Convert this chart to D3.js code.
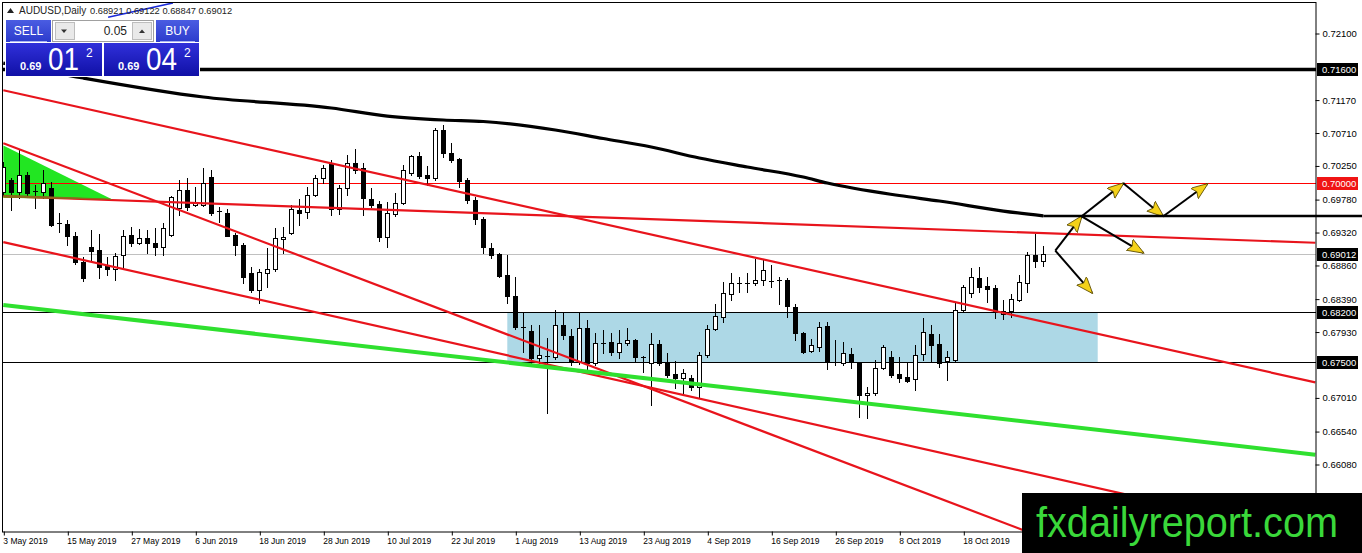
<!DOCTYPE html>
<html>
<head>
<meta charset="utf-8">
<script src="https://cdn.jsdelivr.net/npm/d3@7"></script>
<style>
  html, body { margin: 0; padding: 0; background: #fff; }
  svg { display: block; font-family: "Liberation Sans", Arial, sans-serif; }
</style>
</head>
<body>
<div id="chart"></div>
<script>
// AUDUSD daily candles, 3 May 2019 -> 1 Nov 2019 (one value per bar)
const opens = [
  0.6988, 0.7005, 0.6988, 0.7012, 0.6989, 0.6988, 0.6994, 0.6944, 0.6943, 0.6926,
  0.6890, 0.6911, 0.6907, 0.6885, 0.6880, 0.6900, 0.6928, 0.6917, 0.6924, 0.6917,
  0.6911, 0.6928, 0.6966, 0.6991, 0.6970, 0.6970, 0.7009, 0.6960, 0.6959, 0.6928,
  0.6914, 0.6875, 0.6851, 0.6875, 0.6880, 0.6922, 0.6931, 0.6963, 0.6960, 0.6984,
  0.7007, 0.7028, 0.6964, 0.6994, 0.7028, 0.7021, 0.6978, 0.6971, 0.6925, 0.6957,
  0.6973, 0.7014, 0.7038, 0.7012, 0.7007, 0.7075, 0.7042, 0.7034, 0.7005, 0.6977,
  0.6950, 0.6910, 0.6901, 0.6872, 0.6843, 0.6800, 0.6794, 0.6756, 0.6759, 0.6757,
  0.6802, 0.6787, 0.6750, 0.6798, 0.6749, 0.6777, 0.6778, 0.6764, 0.6777, 0.6781,
  0.6758, 0.6749, 0.6775, 0.6750, 0.6734, 0.6728, 0.6728, 0.6716, 0.6760, 0.6797,
  0.6813, 0.6845, 0.6861, 0.6860, 0.6861, 0.6865, 0.6864, 0.6864, 0.6865, 0.6827,
  0.6791, 0.6766, 0.6772, 0.6801, 0.6750, 0.6749, 0.6762, 0.6749, 0.6704, 0.6707,
  0.6742, 0.6757, 0.6734, 0.6729, 0.6727, 0.6762, 0.6790, 0.6776, 0.6752, 0.6753,
  0.6823, 0.6847, 0.6868, 0.6857, 0.6854, 0.6817, 0.6822, 0.6837, 0.6861, 0.6900,
  0.68921
];
const highs = [
  0.7030, 0.7007, 0.7047, 0.7016, 0.6998, 0.7019, 0.7002, 0.6959, 0.6949, 0.6932,
  0.6897, 0.6935, 0.6929, 0.6897, 0.6903, 0.6935, 0.6939, 0.6936, 0.6935, 0.6938,
  0.6945, 0.6982, 0.7005, 0.7007, 0.6995, 0.7021, 0.7019, 0.6967, 0.6964, 0.6930,
  0.6916, 0.6883, 0.6880, 0.6910, 0.6938, 0.6939, 0.6970, 0.6978, 0.6995, 0.7012,
  0.7026, 0.7033, 0.6998, 0.7040, 0.7048, 0.7028, 0.6994, 0.6975, 0.6974, 0.6987,
  0.7026, 0.7040, 0.7044, 0.7024, 0.7077, 0.7082, 0.7056, 0.7036, 0.7007, 0.6981,
  0.6953, 0.6917, 0.6903, 0.6900, 0.6869, 0.6819, 0.6802, 0.6802, 0.6784, 0.6823,
  0.6819, 0.6797, 0.6820, 0.6809, 0.6791, 0.6795, 0.6791, 0.6795, 0.6798, 0.6783,
  0.6759, 0.6791, 0.6781, 0.6763, 0.6752, 0.6741, 0.6732, 0.6764, 0.6802, 0.6831,
  0.6862, 0.6875, 0.6869, 0.6875, 0.6894, 0.6893, 0.6886, 0.6869, 0.6868, 0.6831,
  0.6793, 0.6783, 0.6806, 0.6806, 0.6781, 0.6778, 0.6770, 0.6751, 0.6716, 0.6753,
  0.6774, 0.6766, 0.6757, 0.6750, 0.6774, 0.6812, 0.6802, 0.6789, 0.6766, 0.6833,
  0.6858, 0.6882, 0.6883, 0.6869, 0.6858, 0.6837, 0.6845, 0.6872, 0.6904, 0.6929,
  0.69122
];
const lows = [
  0.6984, 0.6963, 0.6980, 0.6981, 0.6966, 0.6980, 0.6940, 0.6932, 0.6914, 0.6887,
  0.6864, 0.6893, 0.6868, 0.6872, 0.6865, 0.6883, 0.6912, 0.6915, 0.6903, 0.6900,
  0.6900, 0.6926, 0.6956, 0.6963, 0.6968, 0.6968, 0.6956, 0.6946, 0.6926, 0.6900,
  0.6861, 0.6848, 0.6833, 0.6855, 0.6878, 0.6903, 0.6929, 0.6942, 0.6952, 0.6982,
  0.7000, 0.6956, 0.6957, 0.6984, 0.7014, 0.6956, 0.6967, 0.6919, 0.6911, 0.6954,
  0.6971, 0.7012, 0.7008, 0.6998, 0.7005, 0.7037, 0.7030, 0.6995, 0.6972, 0.6943,
  0.6903, 0.6896, 0.6869, 0.6833, 0.6797, 0.6764, 0.6749, 0.6749, 0.6679, 0.6755,
  0.6783, 0.6746, 0.6748, 0.6739, 0.6746, 0.6763, 0.6760, 0.6756, 0.6774, 0.6750,
  0.6736, 0.6690, 0.6746, 0.6729, 0.6714, 0.6707, 0.6711, 0.6700, 0.6758, 0.6795,
  0.6806, 0.6837, 0.6848, 0.6848, 0.6858, 0.6858, 0.6855, 0.6831, 0.6813, 0.6781,
  0.6763, 0.6764, 0.6766, 0.6741, 0.6746, 0.6746, 0.6742, 0.6674, 0.6672, 0.6705,
  0.6740, 0.6729, 0.6722, 0.6722, 0.6711, 0.6753, 0.6750, 0.6743, 0.6725, 0.6751,
  0.6821, 0.6841, 0.6848, 0.6834, 0.6812, 0.6811, 0.6813, 0.6835, 0.6848, 0.6883,
  0.68847
];
const closes = [
  0.7023, 0.6988, 0.7012, 0.6987, 0.6988, 0.7000, 0.6942, 0.6943, 0.6926, 0.6890,
  0.6868, 0.6906, 0.6883, 0.6880, 0.6899, 0.6926, 0.6917, 0.6924, 0.6917, 0.6911,
  0.6938, 0.6981, 0.6991, 0.6967, 0.6974, 0.7000, 0.6959, 0.6961, 0.6926, 0.6914,
  0.6869, 0.6851, 0.6876, 0.6880, 0.6924, 0.6925, 0.6964, 0.6959, 0.6984, 0.7007,
  0.7021, 0.6964, 0.6994, 0.7028, 0.7019, 0.6980, 0.6970, 0.6925, 0.6959, 0.6973,
  0.7019, 0.7038, 0.7010, 0.7007, 0.7075, 0.7042, 0.7033, 0.7003, 0.6977, 0.6950,
  0.6911, 0.6900, 0.6871, 0.6843, 0.6799, 0.6799, 0.6756, 0.6760, 0.6758, 0.6802,
  0.6788, 0.6750, 0.6798, 0.6749, 0.6777, 0.6776, 0.6764, 0.6777, 0.6781, 0.6757,
  0.6757, 0.6775, 0.6749, 0.6732, 0.6728, 0.6735, 0.6716, 0.6760, 0.6797, 0.6815,
  0.6847, 0.6861, 0.6860, 0.6861, 0.6865, 0.6879, 0.6863, 0.6865, 0.6829, 0.6791,
  0.6764, 0.6774, 0.6799, 0.6750, 0.6749, 0.6763, 0.6750, 0.6704, 0.6707, 0.6742,
  0.6771, 0.6732, 0.6728, 0.6724, 0.6760, 0.6792, 0.6774, 0.6749, 0.6757, 0.6823,
  0.6855, 0.6869, 0.6855, 0.6852, 0.6822, 0.6822, 0.6838, 0.6862, 0.6900, 0.6892,
  0.69012
];

// moving average (bar index, value)
const maBars   = [0, 10, 25, 41, 48, 55, 60, 69, 75, 81, 87, 93, 100, 103, 112, 117, 125, 130];
const maValues = [0.71680, 0.71471, 0.71206, 0.71052, 0.70940, 0.70885, 0.70864, 0.70745, 0.70626,
                  0.70507, 0.70354, 0.70228, 0.70088, 0.70004, 0.69830, 0.69753, 0.69613, 0.69545];

// bottom axis
const dateBars   = [0, 8, 16, 24, 32, 40, 48, 56, 64, 72, 80, 88, 96, 104, 112, 120];
const dateLabels = ["3 May 2019", "15 May 2019", "27 May 2019", "6 Jun 2019", "18 Jun 2019", "28 Jun 2019",
                    "10 Jul 2019", "22 Jul 2019", "1 Aug 2019", "13 Aug 2019", "23 Aug 2019", "4 Sep 2019",
                    "16 Sep 2019", "26 Sep 2019", "8 Oct 2019", "18 Oct 2019"];

// right axis (the two ticks hidden under level labels are left out)
const priceTicks = [0.72100, 0.71170, 0.70710, 0.70250, 0.69780, 0.69320, 0.68860,
                    0.68390, 0.67930, 0.67010, 0.66540, 0.66080, 0.65620];

// horizontal levels: 0.716, 0.700, bid, 0.682, 0.675
const levelPrices = [0.71600, 0.70000, 0.69012, 0.68200, 0.67500];
const maFlatLevel = 0.69545;

// drawn objects, as [bar index, price] pairs
const redTrends = [
  [[0, 0.7130], [164, 0.6722]],
  [[0, 0.7056], [130, 0.6505]],
  [[0, 0.6918], [164, 0.6506]],
  [[0, 0.6982], [164, 0.6917]]
];
const greenTrend = [[0, 0.6830], [164, 0.6621]];
const blueTrend = [[13.1, 0.7232], [21.2, 0.7252]];
const greenTriangle = [[0, 0.7053], [13.7, 0.6977], [0, 0.6980]];
const rangeBars = [63.0, 136.8];
const rangePrices = [0.6820, 0.6750];
const arrowSegments = [
  [[131.5, 0.6906], [134.8, 0.6954]],
  [[134.8, 0.6954], [140.0, 0.7000]],
  [[140.0, 0.7000], [145.0, 0.6954]],
  [[145.0, 0.6954], [150.5, 0.6999]],
  [[134.8, 0.6954], [142.5, 0.6903]],
  [[131.5, 0.6906], [136.1, 0.6847]]
];

const W = 1362, H = 553;
const plot = { left: 3, top: 3, right: 1316, bottom: 532 };

const svg = d3.select("#chart").append("svg")
    .attr("width", W)
    .attr("height", H);

const x = d3.scaleLinear().domain([0, 164]).range([3.3, 3.3 + 8 * 164]);
const y = d3.scaleLinear().domain([0.72100, 0.66080]).range([33, 464]);
const px = d => Math.round(x(d)) + 0.5;
const py = d => Math.round(y(d)) + 0.5;
const line = d3.line().x(d => x(d[0])).y(d => y(d[1]));

const defs = svg.append("defs");
defs.append("clipPath").attr("id", "plot-clip")
    .append("rect")
    .attr("x", plot.left)
    .attr("y", plot.top)
    .attr("width", plot.right - plot.left)
    .attr("height", plot.bottom - plot.top);
defs.append("clipPath").attr("id", "tri-clip")
    .append("path")
    .attr("d", line(greenTriangle) + "Z");

defs.append("marker")
    .attr("id", "arrow-head")
    .attr("markerUnits", "userSpaceOnUse")
    .attr("markerWidth", 20)
    .attr("markerHeight", 14)
    .attr("refX", 16)
    .attr("refY", 6.5)
    .attr("orient", "auto")
    .append("path")
    .attr("d", "M0,0 L17,6.5 L0,13 L3,6.5 Z")
    .attr("fill", "#f4d21a")
    .attr("stroke", "#5a4a00")
    .attr("stroke-width", 0.8);

const grad = (id, top, bottom) => {
    const lg = defs.append("linearGradient").attr("id", id)
        .attr("x1", "0%").attr("y1", "0%").attr("x2", "0%").attr("y2", "100%");
    lg.append("stop").attr("offset", "0%").attr("stop-color", top);
    lg.append("stop").attr("offset", "100%").attr("stop-color", bottom);
};
grad("btn-grad", "#4a5ce2", "#2c3bcc");
grad("price-grad", "#3030da", "#1010a6");

const g = svg.append("g").attr("clip-path", "url(#plot-clip)");

// range box behind the candles
g.append("rect")
    .attr("x", x(rangeBars[0]))
    .attr("y", y(rangePrices[0]))
    .attr("width", x(rangeBars[1]) - x(rangeBars[0]))
    .attr("height", y(rangePrices[1]) - y(rangePrices[0]))
    .attr("fill", "#add8e6");

g.append("path")
    .attr("d", line(greenTriangle) + "Z")
    .attr("fill", "#22e622");

// horizontal levels
const levelColor = ["#000", "#ff0000", "#c0c0c0", "#000", "#000"];
const levelWidth = [3.5, 1, 1, 1, 1];
g.selectAll(".level")
    .data(levelPrices)
    .join("line")
    .attr("class", "level")
    .attr("x1", plot.left)
    .attr("x2", plot.right)
    .attr("y1", d => py(d))
    .attr("y2", d => py(d))
    .attr("stroke", (d, i) => levelColor[i])
    .attr("stroke-width", (d, i) => levelWidth[i]);

// candles
const bars = d3.range(opens.length).map(i => ({ i, o: opens[i], h: highs[i], l: lows[i], c: closes[i] }));
const candle = g.append("g").selectAll("g")
    .data(bars)
    .join("g");

candle.append("line")
    .attr("x1", d => px(d.i))
    .attr("x2", d => px(d.i))
    .attr("y1", d => Math.round(y(d.h)))
    .attr("y2", d => Math.round(y(d.l)) + 1)
    .attr("stroke", "#000")
    .attr("stroke-width", 1);

candle.each(function (d) {
    const top = Math.round(y(Math.max(d.o, d.c)));
    const bot = Math.round(y(Math.min(d.o, d.c)));
    const cx = px(d.i);
    const sel = d3.select(this);
    if (bot - top < 2) {
        sel.append("line")
            .attr("x1", cx - 2.5).attr("x2", cx + 2.5)
            .attr("y1", top + 0.5).attr("y2", top + 0.5)
            .attr("stroke", "#000");
    } else {
        sel.append("rect")
            .attr("x", cx - 2)
            .attr("y", top + 0.5)
            .attr("width", 4)
            .attr("height", bot - top)
            .attr("fill", d.c >= d.o ? "#fff" : "#000")
            .attr("stroke", "#000")
            .attr("stroke-width", 1);
    }
});

// trend lines
g.selectAll(".red-trend")
    .data(redTrends)
    .join("path")
    .attr("class", "red-trend")
    .attr("d", line)
    .attr("fill", "none")
    .attr("stroke", "#e8141c")
    .attr("stroke-width", 2.2);

// where the flat red line crosses the green triangle it shows brown
g.append("g").attr("clip-path", "url(#tri-clip)")
    .append("path")
    .attr("d", line(redTrends[3]))
    .attr("fill", "none")
    .attr("stroke", "#8a6a1c")
    .attr("stroke-width", 3);

g.append("path")
    .attr("d", line(greenTrend))
    .attr("fill", "none")
    .attr("stroke", "#2fe02f")
    .attr("stroke-width", 4);

g.append("path")
    .attr("d", line(blueTrend))
    .attr("fill", "none")
    .attr("stroke", "#1a2ad8")
    .attr("stroke-width", 1.5);

// moving average
g.append("path")
    .datum(maBars.map((b, i) => [b, maValues[i]]))
    .attr("d", d3.line().x(d => x(d[0])).y(d => y(d[1])).curve(d3.curveMonotoneX))
    .attr("fill", "none")
    .attr("stroke", "#000")
    .attr("stroke-width", 3.2);

// scenario arrows
g.selectAll(".arrow")
    .data(arrowSegments)
    .join("path")
    .attr("class", "arrow")
    .attr("d", line)
    .attr("fill", "none")
    .attr("stroke", "#000")
    .attr("stroke-width", 2)
    .attr("marker-end", "url(#arrow-head)");

// flat black line that leaves the average and runs through the price scale
svg.append("line")
    .attr("x1", x(maBars[maBars.length - 1]))
    .attr("x2", W)
    .attr("y1", y(maFlatLevel))
    .attr("y2", y(maFlatLevel))
    .attr("stroke", "#000")
    .attr("stroke-width", 2.5);

// frame
svg.append("rect")
    .attr("x", plot.left - 0.5)
    .attr("y", plot.top - 0.5)
    .attr("width", plot.right - plot.left + 0.5)
    .attr("height", plot.bottom - plot.top + 0.5)
    .attr("fill", "none")
    .attr("stroke", "#000")
    .attr("stroke-width", 1);

// right price axis
const yAxis = d3.axisRight(y)
    .tickValues(priceTicks)
    .tickFormat(d3.format(".5f"))
    .tickSize(4)
    .tickPadding(3);
const yAxisG = svg.append("g")
    .attr("transform", `translate(${plot.right - 0.5},0.5)`)
    .call(yAxis);
yAxisG.select(".domain").remove();
yAxisG.selectAll("text")
    .attr("font-family", "Liberation Sans, Arial, sans-serif")
    .attr("font-size", "9.5px")
    .attr("fill", "#000");

// bottom time axis
const xAxis = d3.axisBottom(x)
    .tickValues(dateBars)
    .tickFormat((d, i) => dateLabels[i])
    .tickSize(4)
    .tickPadding(2);
const xAxisG = svg.append("g")
    .attr("transform", `translate(0.5,${plot.bottom - 0.5})`)
    .call(xAxis);
xAxisG.select(".domain").remove();
xAxisG.selectAll("text")
    .attr("text-anchor", "start")
    .attr("x", -1)
    .attr("font-family", "Liberation Sans, Arial, sans-serif")
    .attr("font-size", "8.5px")
    .attr("fill", "#000");

// level labels on the price scale
const levelBoxColor = ["#000", "#f01414", "#000", "#000", "#000"];
const boxes = svg.selectAll(".level-box")
    .data(levelPrices)
    .join("g")
    .attr("class", "level-box")
    .attr("transform", d => `translate(${plot.right + 1},${Math.round(y(d))})`);
boxes.append("rect")
    .attr("x", 0)
    .attr("y", -6)
    .attr("width", 41)
    .attr("height", 13)
    .attr("fill", (d, i) => levelBoxColor[i]);
boxes.append("text")
    .attr("x", 5)
    .attr("y", 4)
    .attr("font-size", "9.5px")
    .attr("fill", "#fff")
    .text(d => d3.format(".5f")(d));

// title line
const last = opens.length - 1;
svg.append("path")
    .attr("d", "M7,13 L10.5,8 L14,13 Z")
    .attr("fill", "#222");
svg.append("text")
    .attr("x", 19)
    .attr("y", 14)
    .attr("font-size", "10px")
    .attr("fill", "#222")
    .text("AUDUSD,Daily");
svg.append("text")
    .attr("x", 90)
    .attr("y", 14)
    .attr("font-size", "9.3px")
    .attr("fill", "#222")
    .text([opens[last], highs[last], lows[last], closes[last]].map(d3.format(".5f")).join(" "));

// one-click trading panel
const panel = svg.append("g");
panel.append("rect").attr("x", 5).attr("y", 19).attr("width", 195).attr("height", 58).attr("fill", "#fff");

const button = (bx, w, label) => {
    panel.append("rect")
        .attr("x", bx).attr("y", 20).attr("width", w).attr("height", 22)
        .attr("fill", "url(#btn-grad)");
    panel.append("line")
        .attr("x1", bx + 4).attr("x2", bx + w - 4)
        .attr("y1", 41.5).attr("y2", 41.5)
        .attr("stroke", "#a9b3f2").attr("stroke-width", 1);
    panel.append("text")
        .attr("x", bx + w / 2).attr("y", 35)
        .attr("text-anchor", "middle")
        .attr("font-size", "12px")
        .attr("fill", "#fff")
        .text(label);
};
button(6, 45, "SELL");
button(156, 43, "BUY");

// lot size spinner
panel.append("rect")
    .attr("x", 52.5).attr("y", 20.5).attr("width", 101).attr("height", 21)
    .attr("fill", "#fff").attr("stroke", "#a0a0a0");
[[55, "M61,29.5 L67,29.5 L64,33 Z"], [132, "M139,33 L145,33 L142,29.5 Z"]].forEach(([bx, tri]) => {
    panel.append("rect")
        .attr("x", bx + 0.5).attr("y", 22.5).attr("width", 19).attr("height", 17)
        .attr("fill", "#e9e9e9").attr("stroke", "#bdbdbd");
    panel.append("path").attr("d", tri).attr("fill", "#333");
});
panel.append("text")
    .attr("x", 127).attr("y", 35)
    .attr("text-anchor", "end")
    .attr("font-size", "12px")
    .attr("fill", "#222")
    .text("0.05");

// bid / ask boxes
const priceBox = (bx, w, big, small) => {
    panel.append("rect")
        .attr("x", bx).attr("y", 43).attr("width", w).attr("height", 33)
        .attr("fill", "url(#price-grad)");
    panel.append("text")
        .attr("x", bx + 14).attr("y", 70)
        .attr("font-size", "11px").attr("font-weight", "bold")
        .attr("fill", "#fff").text("0.69");
    panel.append("text")
        .attr("x", bx + 42).attr("y", 70)
        .attr("font-size", "31px")
        .attr("textLength", 31).attr("lengthAdjust", "spacingAndGlyphs")
        .attr("fill", "#fff").text(big);
    panel.append("text")
        .attr("x", bx + 80).attr("y", 57)
        .attr("font-size", "12px")
        .attr("fill", "#fff").text(small);
};
priceBox(6, 96, "01", "2");
priceBox(104, 95, "04", "2");

// watermark
svg.append("rect")
    .attr("x", 1022).attr("y", 493).attr("width", W - 1022).attr("height", H - 493)
    .attr("fill", "#000");
svg.append("text")
    .attr("x", 1036).attr("y", 537)
    .attr("font-size", "42px")
    .attr("textLength", 302)
    .attr("lengthAdjust", "spacingAndGlyphs")
    .attr("fill", "#3ad83a")
    .text("fxdailyreport.com");
</script>
</body>
</html>
